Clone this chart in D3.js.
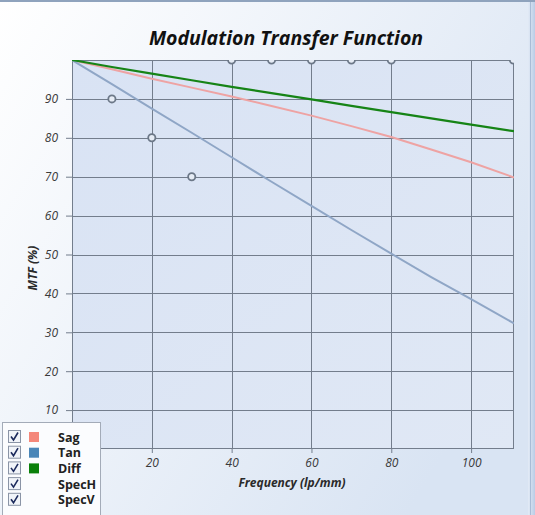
<!DOCTYPE html>
<html><head><meta charset="utf-8">
<script src="https://cdn.jsdelivr.net/npm/d3@7"></script>
<style>html,body{margin:0;padding:0;overflow:hidden;background:#fff}</style>
</head><body><div id="chart"></div>
<script>
const freq = [0,10,20,30,40,50,60,70,80,90,100,110.75];
const sag  = [100,97.6,95.2,92.9,90.6,88.2,85.7,83.0,80.2,77.0,73.7,69.8];
const tan  = [100,93.8,87.5,81.3,75.0,68.7,62.5,56.3,50.2,44.2,38.5,32.3];
const diff = [100,98.2,96.5,94.8,93.1,91.5,89.9,88.2,86.6,85.0,83.4,81.7];
const specHx = [10,20,30];
const specHy = [90,80,70];
const specVx = [40,50,60,70,80,110.6];
const specVy = [100,100,100,100,100,100];
const xTicks = [20,40,60,80,100];
const yTicks = [10,20,30,40,50,60,70,80,90];
const legendNames = ["Sag","Tan","Diff","SpecH","SpecV"];
const legendColors = ["#f4877a","#4a86b8","#0a800a",null,null];

const W=535,H=515;
const svg=d3.select("#chart").append("svg").attr("width",W).attr("height",H);
const defs=svg.append("defs");
const bg=defs.append("linearGradient").attr("id","bg").attr("x1","0").attr("y1","0").attr("x2","1").attr("y2","0.6");
bg.append("stop").attr("offset","0").attr("stop-color","#ffffff");
bg.append("stop").attr("offset","1").attr("stop-color","#d9e4f3");
const pg=defs.append("linearGradient").attr("id","pg").attr("x1","0").attr("y1","0").attr("x2","1").attr("y2","1");
pg.append("stop").attr("offset","0").attr("stop-color","#d9e3f4");
pg.append("stop").attr("offset","1").attr("stop-color","#e0e8f5");
const rg=defs.append("linearGradient").attr("id","rg").attr("x1","0").attr("y1","0").attr("x2","1").attr("y2","0");
rg.append("stop").attr("offset","0").attr("stop-color","#e3ebf6");
rg.append("stop").attr("offset","1").attr("stop-color","#b9cce6");

svg.append("rect").attr("width",W).attr("height",H).attr("fill","url(#bg)");
svg.append("rect").attr("x",0).attr("y",0).attr("width",W).attr("height",2).attr("fill","#8fa3bd");
svg.append("rect").attr("x",528).attr("y",2).attr("width",7).attr("height",H).attr("fill","url(#rg)");
svg.append("line").attr("x1",530.5).attr("x2",530.5).attr("y1",2).attr("y2",H).attr("stroke","#a9bcd6");

const L=72,R=514,T=60,B=449;
const x=d3.scaleLinear().domain([0,110.75]).range([L,R]);
const y=d3.scaleLinear().domain([0,100]).range([B,T]);

defs.append("clipPath").attr("id","clip").append("rect").attr("x",L).attr("y",T).attr("width",R-L).attr("height",B-T);

svg.append("rect").attr("x",L).attr("y",T).attr("width",R-L).attr("height",B-T).attr("fill","url(#pg)");

const grid=svg.append("g").attr("stroke","#737d8c").attr("stroke-width",1);
xTicks.forEach(d=>grid.append("line").attr("x1",Math.round(x(d))+0.5).attr("x2",Math.round(x(d))+0.5).attr("y1",T).attr("y2",B));
yTicks.forEach(d=>grid.append("line").attr("x1",L).attr("x2",R).attr("y1",Math.round(y(d))+0.5).attr("y2",Math.round(y(d))+0.5));
svg.append("rect").attr("x",L+0.5).attr("y",T+0.5).attr("width",R-L-1).attr("height",B-T-1).attr("fill","none").attr("stroke","#737d8c");

const xAxis=d3.axisBottom(x).tickValues(xTicks).tickSize(4).tickSizeOuter(0);
const yAxis=d3.axisLeft(y).tickValues(yTicks).tickSize(6).tickSizeOuter(0);
const gx=svg.append("g").attr("transform",`translate(0,${B})`).call(xAxis);
const gy=svg.append("g").attr("transform",`translate(${L},0)`).call(yAxis);
[gx,gy].forEach(g=>{
  g.select(".domain").remove();
  g.selectAll(".tick line").attr("stroke","#737d8c");
  g.selectAll(".tick text").attr("fill","#3a3a3a").attr("font-family","'Open Sans',sans-serif").attr("font-style","italic").attr("font-size","12px");
});
gx.selectAll(".tick text").attr("dy","0.9em");
gy.selectAll(".tick text").attr("x",-14);

const plot=svg.append("g").attr("clip-path","url(#clip)");
const line=(vals)=>d3.line().x((d,i)=>x(freq[i])).y(d=>y(d))(vals);
plot.append("path").attr("d",line(sag)).attr("fill","none").attr("stroke","#eea3a3").attr("stroke-width",2);
plot.append("path").attr("d",line(tan)).attr("fill","none").attr("stroke","#8fa6c6").attr("stroke-width",2);
plot.append("path").attr("d",line(diff)).attr("fill","none").attr("stroke","#168416").attr("stroke-width",2.2);

const mk=(xs,ys)=>xs.forEach((v,i)=>plot.append("circle").attr("cx",x(v)).attr("cy",y(ys[i])).attr("r",3.6).attr("fill","#e6ecf5").attr("stroke","#6c7888").attr("stroke-width",1.8));
mk(specHx,specHy);
mk(specVx,specVy);

svg.append("text").attr("x",286).attr("y",45).attr("text-anchor","middle")
  .attr("font-family","'Open Sans',sans-serif").attr("font-weight","bold").attr("font-style","italic").attr("font-size","19.5px").attr("fill","#111")
  .text("Modulation Transfer Function");
svg.append("text").attr("x",292).attr("y",487).attr("text-anchor","middle")
  .attr("font-family","'Open Sans',sans-serif").attr("font-weight","bold").attr("font-style","italic").attr("font-size","12px").attr("fill","#2a2a2a")
  .text("Frequency (lp/mm)");
svg.append("text").attr("transform","translate(37,268) rotate(-90)").attr("text-anchor","middle")
  .attr("font-family","'Open Sans',sans-serif").attr("font-weight","bold").attr("font-style","italic").attr("font-size","12px").attr("fill","#2a2a2a")
  .text("MTF (%)");

const lg=svg.append("g");
lg.append("rect").attr("x",2.5).attr("y",422.5).attr("width",98).attr("height",95).attr("fill","#fbfcfe").attr("stroke","#a3abb8");
legendNames.forEach((n,i)=>{
  const cy=437+i*15.7;
  lg.append("rect").attr("x",8.5).attr("y",cy-6.5).attr("width",12).attr("height",12).attr("fill","#f1f4f9").attr("stroke","#8a94a6");
  lg.append("path").attr("d",`M${11},${cy-0.5} L${13.5},${cy+3} L${18},${cy-4.5}`).attr("fill","none").attr("stroke","#1c2a5c").attr("stroke-width",1.6);
  if(legendColors[i]) lg.append("rect").attr("x",29).attr("y",cy-5).attr("width",10).attr("height",10).attr("fill",legendColors[i]);
  lg.append("text").attr("x",58).attr("y",cy+4.5).attr("font-family","'Open Sans',sans-serif").attr("font-weight","bold").attr("font-size","12.5px").attr("fill","#222").text(n);
});
</script></body></html>
